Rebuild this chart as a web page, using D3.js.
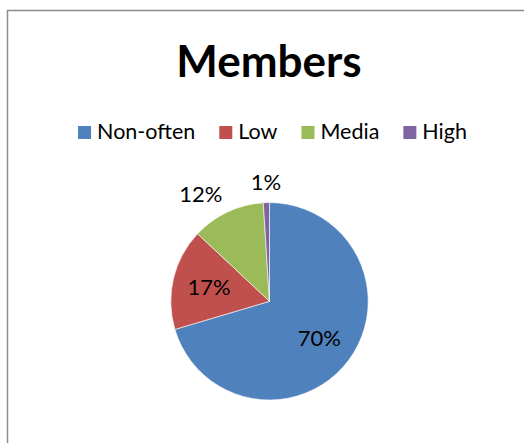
<!DOCTYPE html>
<html>
<head>
<meta charset="utf-8">
<script src="https://cdn.jsdelivr.net/npm/d3@7"></script>
<style>
  html, body { margin: 0; padding: 0; background: #fff; }
  svg { display: block; }
</style>
</head>
<body>
<div id="chart"></div>
<script>
// Data.
const categories = ['Non-often', 'Low', 'Media', 'High'];
const shares = [70.4, 16.6, 12.0, 1.0];
const labels = ['70%', '17%', '12%', '1%'];
const colors = ['#4F81BD', '#C0504D', '#9BBB59', '#8064A2'];
const title = 'Members';

const W = 524, H = 443;
const FONT = 'Lato, "Open Sans", sans-serif';

const svg = d3.select('#chart').append('svg')
  .attr('width', W).attr('height', H);

svg.append('rect').attr('width', W).attr('height', H).attr('fill', '#fff');

// Chart-area frame (only top and left edges fall inside the picture).
svg.append('rect')
  .attr('x', 7.5).attr('y', 10.5)
  .attr('width', 600).attr('height', 600)
  .attr('fill', 'none')
  .attr('stroke', '#8c8c8c')
  .attr('stroke-width', 1.5);

svg.append('text')
  .attr('x', 269).attr('y', 77)
  .attr('text-anchor', 'middle')
  .attr('font-family', FONT)
  .attr('font-weight', 'bold')
  .attr('font-size', 44)
  .attr('fill', '#000')
  .text(title);

// Legend, centred as a row.
const legend = svg.append('g');
const sw = 13, gapText = 6, gapItem = 24, baseY = 139;
let cx = 0;
categories.forEach((c, i) => {
  const item = legend.append('g').attr('transform', `translate(${cx},0)`);
  item.append('rect')
    .attr('x', 0).attr('y', baseY - sw)
    .attr('width', sw).attr('height', sw)
    .attr('fill', colors[i]);
  const t = item.append('text')
    .attr('x', sw + gapText).attr('y', baseY)
    .attr('font-family', FONT).attr('font-size', 21.5)
    .attr('fill', '#000')
    .text(c);
  cx += sw + gapText + t.node().getComputedTextLength() + gapItem;
});
const legendW = cx - gapItem;
legend.attr('transform', `translate(${272.5 - legendW / 2},0)`);

// Pie
const R = 98.7;
const center = [269.5, 301.3];
const pie = d3.pie().sort(null).value((d) => d)(shares);
const arc = d3.arc().innerRadius(0).outerRadius(R);

const g = svg.append('g').attr('transform', `translate(${center[0]},${center[1]})`);
g.selectAll('path.slice').data(pie).enter().append('path')
  .attr('class', 'slice')
  .attr('d', arc)
  .attr('fill', (d, i) => colors[i])
  .attr('stroke', '#fff')
  .attr('stroke-width', 0.6);

// Data labels: big slices inside, small slices outside the rim.
const fs = 22;
pie.forEach((d, i) => {
  const a = (d.startAngle + d.endAngle) / 2;
  const s = Math.sin(a), c = Math.cos(a);
  const inside = shares[i] >= 15;
  let x, y, anchor = 'middle';
  if (inside) {
    const r = R * 0.63;
    x = r * s; y = -r * c;
  } else {
    const r = R + 12;
    x = r * s; y = -r * c - c * 8;
    if (s < -0.3) anchor = 'end';
    else if (s > 0.3) anchor = 'start';
  }
  g.append('text')
    .attr('x', x).attr('y', y)
    .attr('dy', '0.35em')
    .attr('text-anchor', anchor)
    .attr('font-family', FONT).attr('font-size', fs)
    .attr('fill', '#000')
    .text(labels[i]);
});
</script>
</body>
</html>
